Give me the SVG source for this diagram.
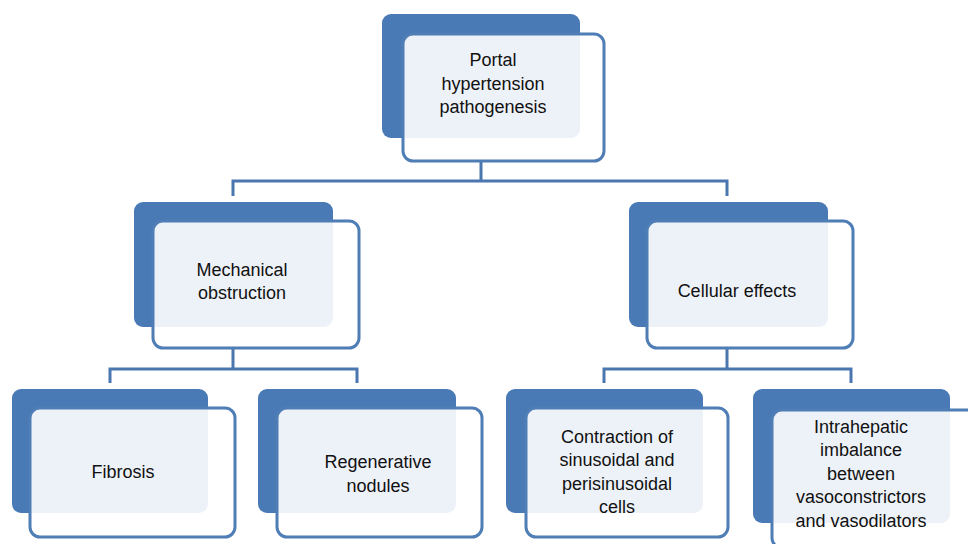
<svg xmlns="http://www.w3.org/2000/svg" width="968" height="544" viewBox="0 0 968 544">
<style>
.back{fill:#4A7AB5}
.front{fill:#fff;fill-opacity:0.9;stroke:#4F7DB6;stroke-width:3}
.lbl{font-family:"Liberation Sans",Arial,sans-serif;font-size:18px;fill:#111;text-anchor:middle}
.conn{fill:none;stroke:#4A77B0;stroke-width:3}
</style>
<rect width="968" height="544" fill="#fff"/>
<g id="connectors">
<path class="conn" d="M481 162V181M233 196V181H727V196"/>
<path class="conn" d="M233 349V369M110 383V369H357V383"/>
<path class="conn" d="M727 349V369M604 383V369H851V383"/>
</g>
<g id="n-portal">
<rect class="back" x="382" y="14" width="198" height="124" rx="9"/>
<rect class="front" x="403" y="34" width="201" height="127" rx="10"/>
<text class="lbl" x="493" y="66">Portal</text>
<text class="lbl" x="493" y="90">hypertension</text>
<text class="lbl" x="493" y="113">pathogenesis</text>
</g>
<g id="n-mech">
<rect class="back" x="134" y="202" width="199" height="125" rx="9"/>
<rect class="front" x="153" y="221" width="206" height="127" rx="10"/>
<text class="lbl" x="242" y="276">Mechanical</text>
<text class="lbl" x="242" y="299">obstruction</text>
</g>
<g id="n-cell">
<rect class="back" x="629" y="202" width="199" height="125" rx="9"/>
<rect class="front" x="647" y="221" width="206" height="127" rx="10"/>
<text class="lbl" x="737" y="297">Cellular effects</text>
</g>
<g id="n-fib">
<rect class="back" x="12" y="389" width="196" height="124" rx="9"/>
<rect class="front" x="30" y="408" width="205" height="129" rx="10"/>
<text class="lbl" x="123" y="478">Fibrosis</text>
</g>
<g id="n-regen">
<rect class="back" x="258" y="389" width="198" height="124" rx="9"/>
<rect class="front" x="277" y="408" width="205" height="129" rx="10"/>
<text class="lbl" x="378" y="468">Regenerative</text>
<text class="lbl" x="378" y="492">nodules</text>
</g>
<g id="n-contr">
<rect class="back" x="506" y="389" width="197" height="124" rx="9"/>
<rect class="front" x="526" y="408" width="202" height="129" rx="10"/>
<text class="lbl" x="617" y="443">Contraction of</text>
<text class="lbl" x="617" y="466">sinusoidal and</text>
<text class="lbl" x="617" y="490">perisinusoidal</text>
<text class="lbl" x="617" y="513">cells</text>
</g>
<g id="n-intra">
<rect class="back" x="753" y="389" width="197" height="134" rx="9"/>
<rect class="front" x="772" y="410" width="206" height="138" rx="10"/>
<text class="lbl" x="861" y="433">Intrahepatic</text>
<text class="lbl" x="861" y="456">imbalance</text>
<text class="lbl" x="861" y="480">between</text>
<text class="lbl" x="861" y="503">vasoconstrictors</text>
<text class="lbl" x="861" y="527">and vasodilators</text>
</g>
</svg>
